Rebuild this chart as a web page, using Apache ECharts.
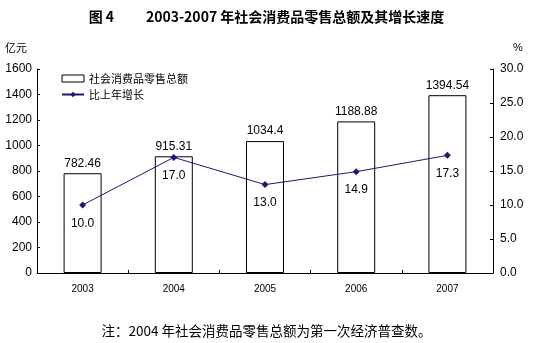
<!DOCTYPE html>
<html><head><meta charset="utf-8">
<script src="https://cdn.jsdelivr.net/npm/echarts@6/dist/echarts.min.js"></script>
<style>html,body{margin:0;padding:0;background:#fff}#c{width:533px;height:343px}</style>
</head><body><div id="c"></div>
<script>
const categories = ['2003','2004','2005','2006','2007'];
const salesValues = [782.46, 915.31, 1034.4, 1188.88, 1394.54];
const growthValues = [10.0, 17.0, 13.0, 14.9, 17.3];
const salesLabels = ['782.46','915.31','1034.4','1188.88','1394.54'];
const leftTicks = [0,200,400,600,800,1000,1200,1400,1600];
const rightTicks = [0,5,10,15,20,25,30];

const chart = echarts.init(document.getElementById('c'));
const numFont = 'Liberation Sans, Arial, sans-serif';
const cjkFont = 'Noto Sans CJK SC, sans-serif';
chart.setOption({
  animation: false,
  backgroundColor: '#fff',
  title: [
    {text: '图 4          2003-2007 年社会消费品零售总额及其增长速度', left: 'center', top: 5,
     textStyle: {fontFamily: cjkFont, fontSize: 14, fontWeight: 'bold', color: '#000'}},
    {text: '注：2004 年社会消费品零售总额为第一次经济普查数。', left: 'center', top: 319,
     textStyle: {fontFamily: cjkFont, fontSize: 13.5, fontWeight: 'normal', color: '#000'}}
  ],
  legend: {
    orient: 'vertical', left: 56, top: 68, itemGap: 5, itemWidth: 22, itemHeight: 7,
    textStyle: {fontFamily: cjkFont, fontSize: 11, color: '#000'},
    data: [
      {name: '社会消费品零售总额', icon: 'rect', itemStyle: {color: '#fff', borderColor: '#000', borderWidth: 1}},
      {name: '比上年增长'}
    ]
  },
  grid: {left: 37, right: 40, top: 69, bottom: 70},
  xAxis: {
    type: 'category', data: categories,
    axisLine: {lineStyle: {color: '#000', width: 1}},
    axisTick: {show: true, inside: true, length: 3, lineStyle: {color: '#000'}},
    axisLabel: {fontFamily: numFont, fontSize: 10, color: '#000', margin: 11}
  },
  yAxis: [
    {type: 'value', min: 0, max: 1600, interval: 200,
     name: '亿元', nameLocation: 'end', nameGap: 16,
     nameTextStyle: {fontFamily: cjkFont, fontSize: 11, color: '#000', align: 'right', padding: [0, 10, 0, 0]},
     axisLine: {show: true, lineStyle: {color: '#000'}},
     axisTick: {show: true, inside: true, length: 3, lineStyle: {color: '#000'}},
     splitLine: {show: false},
     axisLabel: {fontFamily: numFont, fontSize: 12, color: '#000', margin: 5,
       formatter: v => String(v)}},
    {type: 'value', min: 0, max: 30, interval: 5,
     name: '%', nameLocation: 'end', nameGap: 16,
     nameTextStyle: {fontFamily: numFont, fontSize: 11, color: '#000', align: 'left', padding: [0, 0, 0, 20]},
     axisLine: {show: true, lineStyle: {color: '#000'}},
     axisTick: {show: true, inside: true, length: 3, lineStyle: {color: '#000'}},
     splitLine: {show: false},
     axisLabel: {fontFamily: numFont, fontSize: 12, color: '#000', margin: 7,
       formatter: v => v.toFixed(1)}}
  ],
  series: [
    {name: '社会消费品零售总额', type: 'bar', yAxisIndex: 0, data: salesValues, barWidth: 38,
     itemStyle: {color: '#fff', borderColor: '#000', borderWidth: 1},
     label: {show: true, position: 'top', distance: 4, fontFamily: numFont, fontSize: 12, color: '#000',
       formatter: p => salesLabels[p.dataIndex]}},
    {name: '比上年增长', type: 'line', yAxisIndex: 1, data: growthValues,
     symbol: 'diamond', symbolSize: 7,
     lineStyle: {color: '#1a1a6e', width: 1},
     itemStyle: {color: '#1a1a6e'},
     label: {show: true, position: 'bottom', distance: 9, fontFamily: numFont, fontSize: 12, color: '#000',
       formatter: p => p.value.toFixed(1)}}
  ]
});
</script></body></html>
